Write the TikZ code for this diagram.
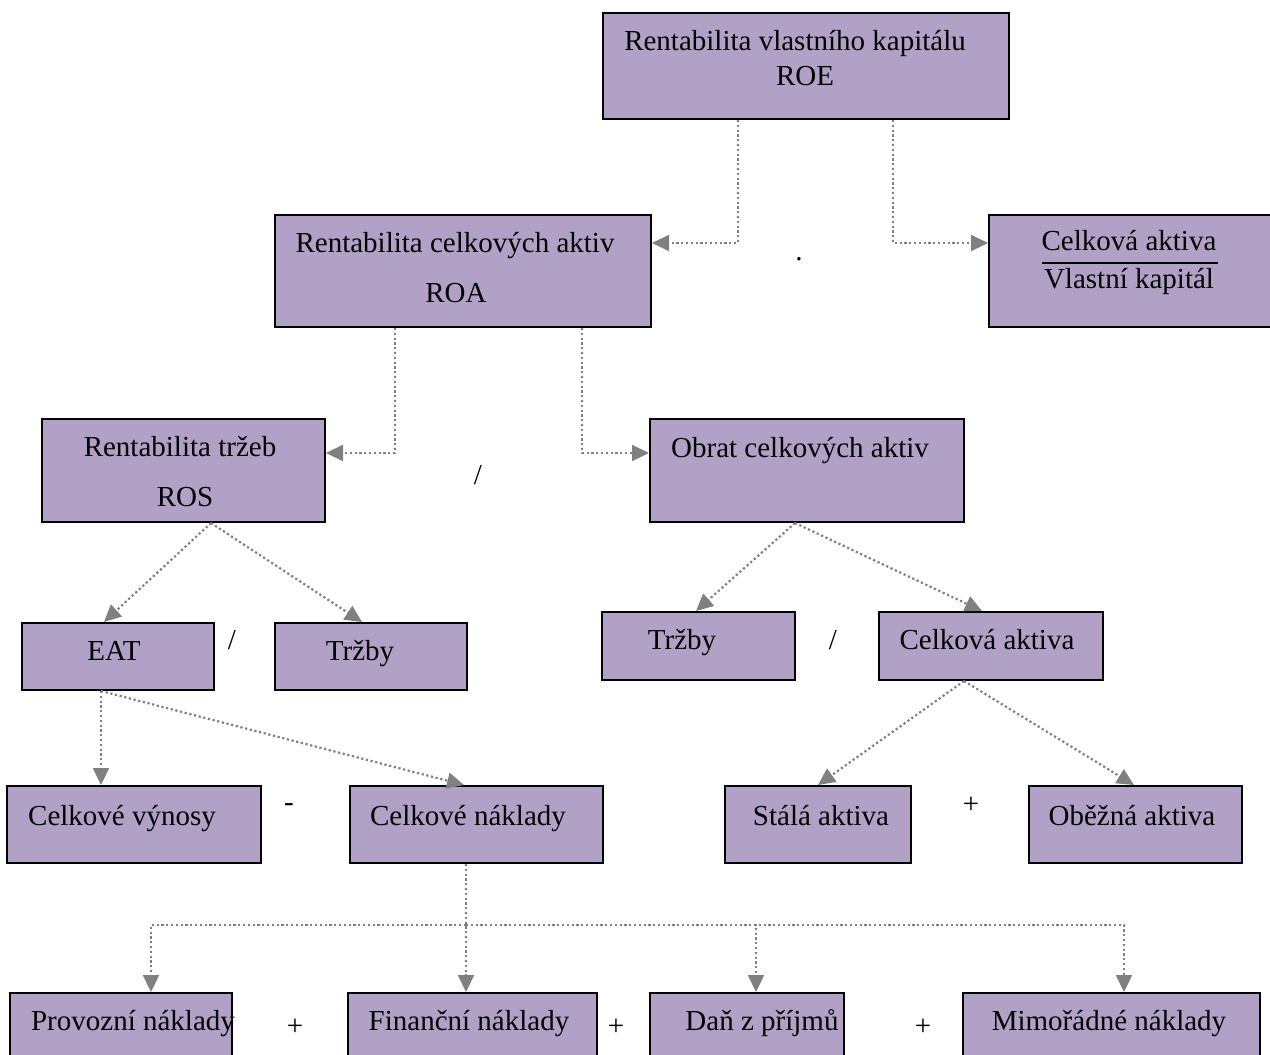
\documentclass[tikz,border=0pt]{standalone}
\usepackage{fontspec}
\setmainfont{Liberation Serif}
\usetikzlibrary{arrows.meta}
\definecolor{boxfill}{RGB}{177,161,199}
\definecolor{conngray}{RGB}{128,128,128}
\begin{document}
\begin{tikzpicture}[x=1pt,y=-1pt,
  box/.style={draw=black, line width=2pt, fill=boxfill, inner sep=0pt, anchor=north west},
  txt/.style={anchor=base, inner sep=0pt, text=black, font=\fontsize{29}{34}\selectfont},
  op/.style={anchor=center, inner sep=0pt, text=black, font=\fontsize{29}{34}\selectfont},
  conn/.style={draw=conngray, line width=2.2pt, dash pattern=on 2.2pt off 2.6pt,
    -{Triangle[length=17pt,width=16pt,fill=conngray]}}]
\useasboundingbox (0,0) rectangle (1270,1055);
\clip (0,0) rectangle (1270,1055);
\fill[white] (0,0) rectangle (1270,1055);

% boxes
\node[box, minimum width=406pt, minimum height=106pt] (roe) at (602,12) {};
\node[box, minimum width=376pt, minimum height=112pt] (roa) at (274,214) {};
\node[box, minimum width=300pt, minimum height=112pt] (frac) at (988,214) {};
\node[box, minimum width=283pt, minimum height=103pt] (ros) at (41,418) {};
\node[box, minimum width=314pt, minimum height=103pt] (obrat) at (649,418) {};
\node[box, minimum width=192pt, minimum height=67pt] (eat) at (21,622) {};
\node[box, minimum width=192pt, minimum height=67pt] (trzbyA) at (274,622) {};
\node[box, minimum width=193pt, minimum height=68pt] (trzbyB) at (601,611) {};
\node[box, minimum width=224pt, minimum height=68pt] (aktiva) at (878,611) {};
\node[box, minimum width=254pt, minimum height=77pt] (vynosy) at (6,785) {};
\node[box, minimum width=253pt, minimum height=77pt] (naklady) at (349,785) {};
\node[box, minimum width=186pt, minimum height=77pt] (stala) at (724,785) {};
\node[box, minimum width=213pt, minimum height=77pt] (obezna) at (1028,785) {};
\node[box, minimum width=222pt, minimum height=80pt] (prov) at (9,992) {};
\node[box, minimum width=249pt, minimum height=80pt] (fin) at (347,992) {};
\node[box, minimum width=194pt, minimum height=80pt] (dan) at (649,992) {};
\node[box, minimum width=297pt, minimum height=80pt] (mimo) at (962,992) {};

% texts
\node[txt] (troe1) at (795,50) {Rentabilita vlastního kapitálu};
\node[txt] (troe2) at (805,85) {ROE};
\node[txt] (troa1) at (455,252) {Rentabilita celkových aktiv};
\node[txt] (troa2) at (456,302) {ROA};
\node[txt] (tfrac1) at (1129,250) {Celková aktiva};
\node[txt] (tfrac2) at (1129,288) {Vlastní kapitál};
\draw[black, line width=1.5pt] (1042,263) -- (1218,263);
\node[txt] (tros1) at (180,456) {Rentabilita tržeb};
\node[txt] (tros2) at (185,506) {ROS};
\node[txt] (tobrat) at (800,457) {Obrat celkových aktiv};
\node[txt] (teat) at (114,660) {EAT};
\node[txt] (ttrzbyA) at (360,660) {Tržby};
\node[txt] (ttrzbyB) at (682,649) {Tržby};
\node[txt] (taktiva) at (987,649) {Celková aktiva};
\node[txt] (tvynosy) at (122,825) {Celkové výnosy};
\node[txt] (tnaklady) at (468,825) {Celkové náklady};
\node[txt] (tstala) at (821,825) {Stálá aktiva};
\node[txt] (tobezna) at (1132,825) {Oběžná aktiva};
\node[txt] (tprov) at (133,1030) {Provozní náklady};
\node[txt] (tfin) at (469,1030) {Finanční náklady};
\node[txt] (tdan) at (762,1030) {Daň z příjmů};
\node[txt] (tmimo) at (1109,1030) {Mimořádné náklady};

% operators
\node[op] (dot1) at (799,259) {.};
\node[op] (op1) at (478,475) {/};
\node[op] (op2) at (232,640) {/};
\node[op] (op3) at (833,640) {/};
\node[op] (op4) at (289,808) {-};
\node[op] (op5) at (971,805) {+};
\node[op] (op6) at (295,1027) {+};
\node[op] (op7) at (616,1027) {+};
\node[op] (op8) at (923,1027) {+};

% connectors
\draw[conn] ([xshift=136pt]roe.south west) |- ([yshift=-29pt]roa.north east);
\draw[conn] ([xshift=291pt]roe.south west) |- ([yshift=-29pt]frac.north west);
\draw[conn] ([xshift=121pt]roa.south west) |- ([yshift=-35pt]ros.north east);
\draw[conn] ([xshift=308pt]roa.south west) |- ([yshift=-35pt]obrat.north west);
\draw[conn] ([xshift=170pt]ros.south west) -- ([xshift=83pt]eat.north west);
\draw[conn] ([xshift=170pt]ros.south west) -- ([xshift=88pt]trzbyA.north west);
\draw[conn] ([xshift=146pt]obrat.south west) -- ([xshift=95pt]trzbyB.north west);
\draw[conn] ([xshift=146pt]obrat.south west) -- ([xshift=104pt]aktiva.north west);
\draw[conn] ([xshift=80pt]eat.south west) -- ([xshift=95pt]vynosy.north west);
\draw[conn] ([xshift=80pt]eat.south west) -- ([xshift=115pt]naklady.north west);
\draw[conn] ([xshift=86pt]aktiva.south west) -- ([xshift=94pt]stala.north west);
\draw[conn] ([xshift=86pt]aktiva.south west) -- ([xshift=106pt]obezna.north west);
\coordinate (j) at (466,925);
\draw[conn] ([xshift=117pt]naklady.south west) -- ([xshift=119pt]fin.north west);
\draw[conn] (j) -| ([xshift=142pt]prov.north west);
\draw[conn] (j) -| ([xshift=107pt]dan.north west);
\draw[conn] (j) -| ([xshift=162pt]mimo.north west);
\end{tikzpicture}
\end{document}
